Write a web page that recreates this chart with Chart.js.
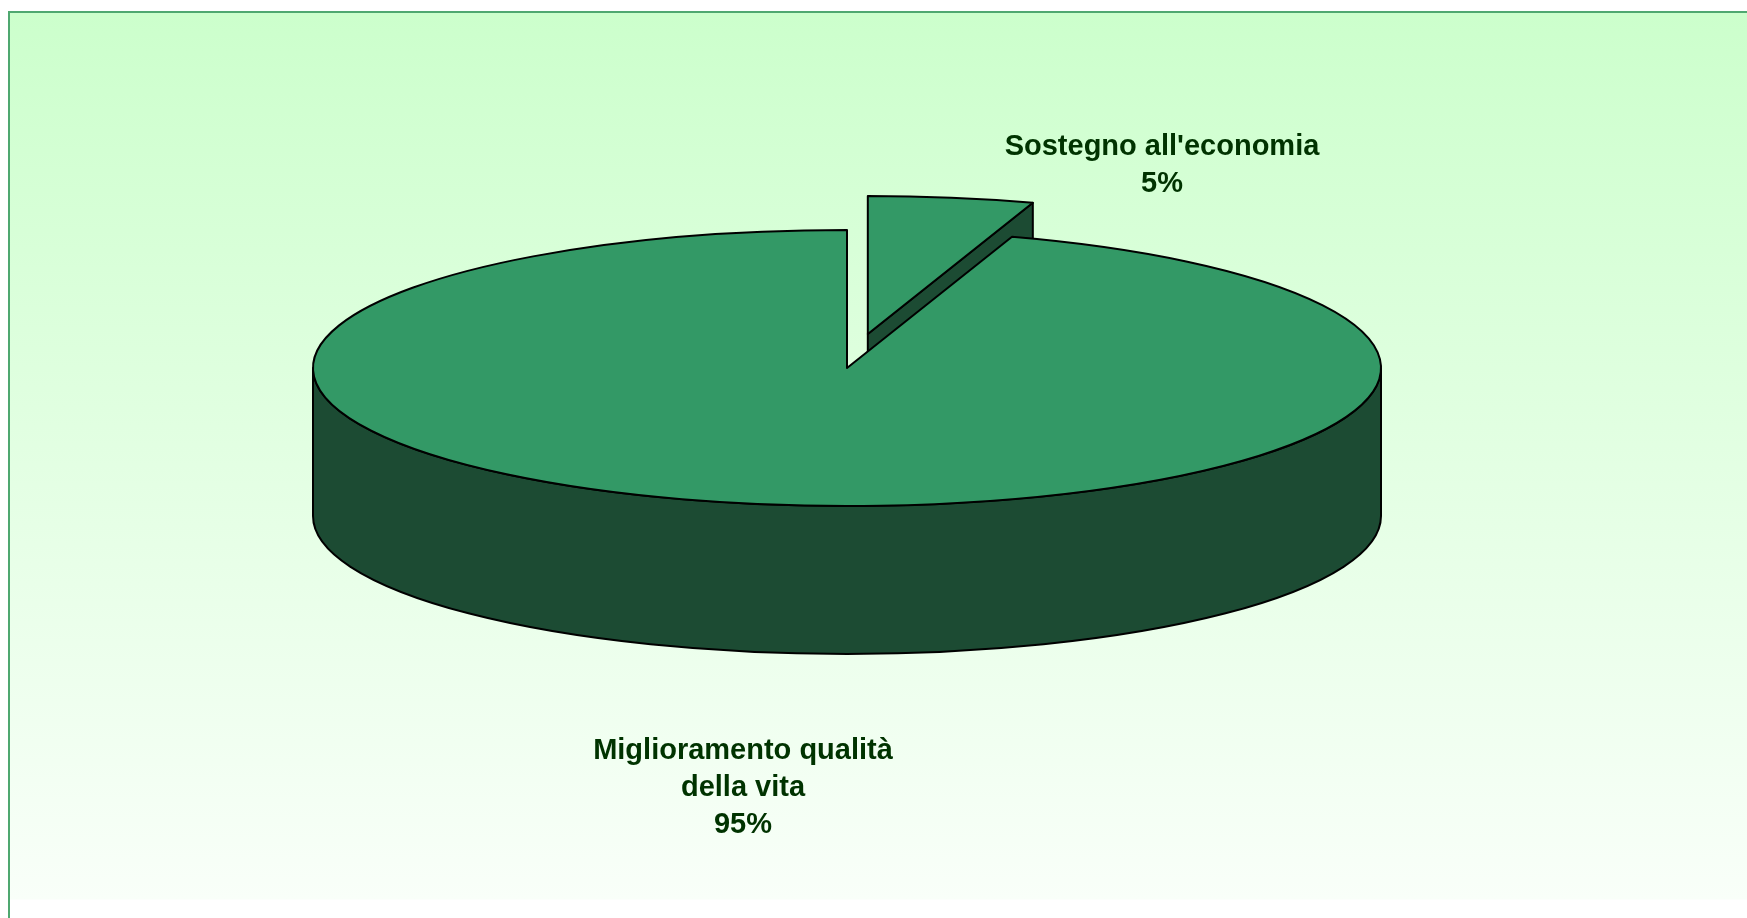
<!DOCTYPE html>
<html>
<head>
<meta charset="utf-8">
<script src="https://cdn.jsdelivr.net/npm/chart.js@4/dist/chart.umd.min.js"></script>
<style>
  html, body { margin: 0; padding: 0; background: #ffffff; overflow: hidden; }
  .frame {
    position: absolute; left: 8px; top: 11px; width: 1760px; height: 920px;
    border-left: 2px solid #4fa870; border-top: 2px solid #4fa870;
    background: linear-gradient(to bottom, #ccffcc 0px, #f9fff9 886px, #ffffff 887px);
  }
  #pie { position: absolute; left: 0; top: 0; }
</style>
</head>
<body>
<div class="frame"></div>
<canvas id="pie" width="1747" height="918"></canvas>
<script>
// data
const categories = [["Sostegno all'economia"], ['Miglioramento qualità', 'della vita']];
const values = [5, 95];

// look of the 3d pie
const topColor = '#339966';
const sideColor = '#1c4b33';
const tilt = 0.2584;     // vertical squash of the disc
const depth = 148;       // thickness in px
const explode = [133, 0];
const labelAt = [[1162, 155], [743, 759]];
const lineGap = 37;

function pt(cx, cy, r, a) {
  return [cx + Math.cos(a) * r, cy + Math.sin(a) * r * tilt];
}

const pie3d = {
  id: 'pie3d',
  beforeDatasetsDraw(chart) {
    const ctx = chart.ctx;
    const arcs = chart.getDatasetMeta(0).data;
    const slices = arcs.map((arc, i) => {
      const p = arc.getProps(['x', 'y', 'startAngle', 'endAngle', 'outerRadius'], true);
      const mid = (p.startAngle + p.endAngle) / 2;
      const ex = explode[i] || 0;
      return {
        i, mid, s: p.startAngle, e: p.endAngle, r: p.outerRadius,
        cx: p.x + Math.cos(mid) * ex,
        cy: p.y + Math.sin(mid) * ex * tilt
      };
    });
    // back slices first
    slices.sort((a, b) => Math.sin(a.mid) - Math.sin(b.mid));

    ctx.save();
    ctx.lineWidth = 2;
    ctx.lineJoin = 'round';
    ctx.strokeStyle = '#000000';

    slices.forEach(sl => {
      const {cx, cy, r, s, e} = sl;

      // cut faces
      [[s, s - Math.PI / 2], [e, e + Math.PI / 2]].forEach(([a, n]) => {
        if (Math.sin(n) <= 0.001) return;
        const [x, y] = pt(cx, cy, r, a);
        ctx.beginPath();
        ctx.moveTo(cx, cy);
        ctx.lineTo(x, y);
        ctx.lineTo(x, y + depth);
        ctx.lineTo(cx, cy + depth);
        ctx.closePath();
        ctx.fillStyle = sideColor;
        ctx.fill();
        ctx.stroke();
      });

      // outer wall, front half only
      for (let n = -1; n <= 1; n++) {
        const a = Math.max(s, n * 2 * Math.PI);
        const b = Math.min(e, n * 2 * Math.PI + Math.PI);
        if (b - a <= 0.0001) continue;
        const [xb, yb] = pt(cx, cy, r, b);
        ctx.beginPath();
        ctx.ellipse(cx, cy, r, r * tilt, 0, a, b, false);
        ctx.lineTo(xb, yb + depth);
        ctx.ellipse(cx, cy + depth, r, r * tilt, 0, b, a, true);
        ctx.closePath();
        ctx.fillStyle = sideColor;
        ctx.fill();
        ctx.stroke();
      }

      // top face
      ctx.beginPath();
      ctx.moveTo(cx, cy);
      ctx.ellipse(cx, cy, r, r * tilt, 0, s, e, false);
      ctx.closePath();
      ctx.fillStyle = topColor;
      ctx.fill();
      ctx.stroke();
    });

    // labels
    const total = values.reduce((a, b) => a + b, 0);
    ctx.font = 'bold 29px "Liberation Sans", Arial, sans-serif';
    ctx.fillStyle = '#003300';
    ctx.textAlign = 'center';
    ctx.textBaseline = 'alphabetic';
    chart.data.labels.forEach((lab, i) => {
      const lines = [].concat(lab, Math.round(values[i] / total * 100) + '%');
      lines.forEach((t, j) => {
        ctx.fillText(t, labelAt[i][0], labelAt[i][1] + j * lineGap);
      });
    });
    ctx.restore();
    return false;
  }
};

new Chart(document.getElementById('pie'), {
  type: 'pie',
  data: {
    labels: categories,
    datasets: [{
      data: values,
      backgroundColor: topColor,
      borderColor: '#000000',
      clip: false
    }]
  },
  options: {
    responsive: false,
    animation: false,
    radius: 534,
    rotation: 0,
    layout: { padding: { left: 0, right: 53, top: 0, bottom: 182 } },
    plugins: {
      legend: { display: false },
      tooltip: { enabled: false }
    }
  },
  plugins: [pie3d]
});
</script>
</body>
</html>
